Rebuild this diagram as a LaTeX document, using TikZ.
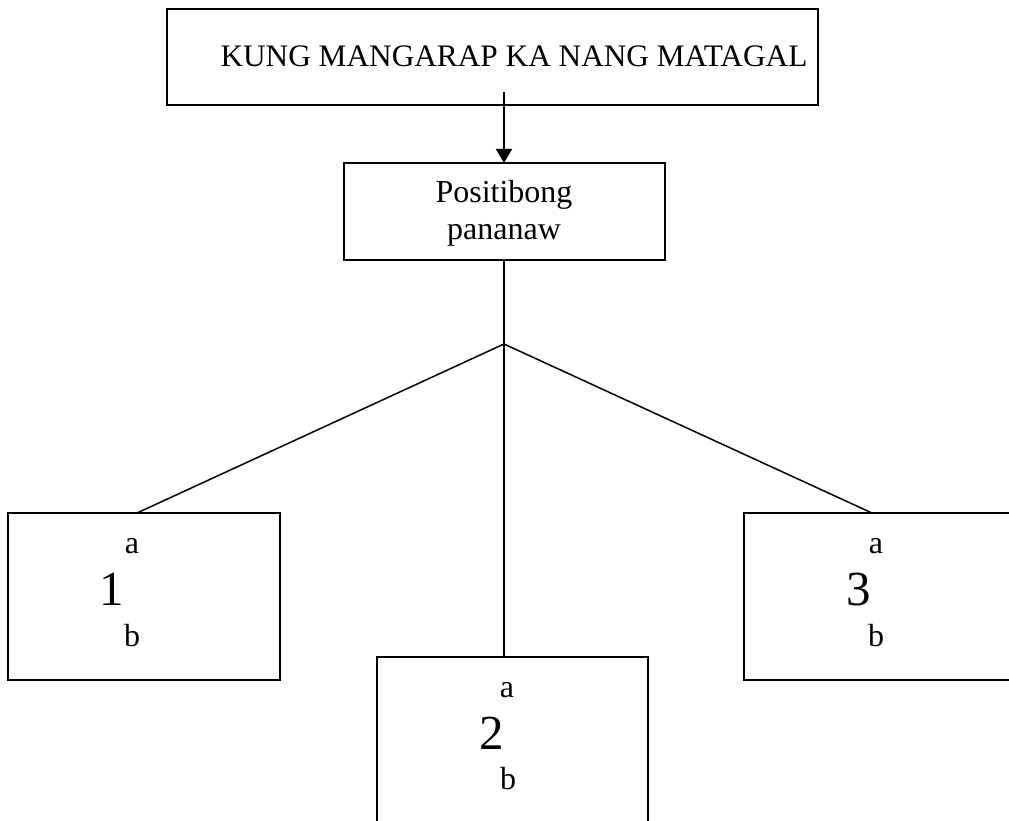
\documentclass[tikz,border=0pt]{standalone}
\usepackage{fontspec}
\setmainfont{Liberation Serif}
\usetikzlibrary{arrows.meta}
\tikzset{
  boxline/.style={draw=black, line width=1.6pt},
  conn/.style={draw=black, line width=1.5pt},
  txt/.style={inner sep=0pt, anchor=base, font=\fontsize{32}{37}\selectfont},
  big/.style={inner sep=0pt, anchor=base, font=\fontsize{49}{55}\selectfont},
}
\begin{document}
\begin{tikzpicture}[x=1pt,y=-1pt]
\useasboundingbox (0,0) rectangle (1009,821);
% boxes
\draw[boxline] (167,9) rectangle (818,105);
\draw[boxline] (344,163) rectangle (665,260);
\draw[boxline] (8,513) rectangle (280,680);
\draw[boxline] (377,657) rectangle (648,840);
\draw[boxline] (1030,513) -- (744,513) -- (744,680) -- (1030,680);
% named anchor points
\coordinate (topstart) at (504,92);
\coordinate (midtop) at (504,163);
\coordinate (midbot) at (504,260);
\coordinate (junc) at (504,344);
\coordinate (b1top) at (137,513);
\coordinate (b2top) at (504,657);
\coordinate (b3top) at (872,513);
% texts
\node[txt, font=\fontsize{31.3}{36}\selectfont] (title) at (514,67) {KUNG MANGARAP KA NANG MATAGAL};
\node[txt] (pos1) at (504,203) {Positibong};
\node[txt] (pos2) at (504,240) {pananaw};
\node[txt] (a1) at (132,553) {a};
\node[big] (n1) at (112,605) {1};
\node[txt] (b1) at (132,646) {b};
\node[txt] (a2) at (507,697) {a};
\node[big] (n2) at (492,749) {2};
\node[txt] (b2) at (508,789) {b};
\node[txt] (a3) at (876,553) {a};
\node[big] (n3) at (859,605) {3};
\node[txt] (b3) at (876,646) {b};
% connectors
\draw[conn, -{Triangle[width=16pt,length=14pt]}] (topstart) -- (midtop);
\draw[conn] (midbot) -- (junc);
\draw[conn] (junc) -- (b1top);
\draw[conn] (junc) -- (b2top);
\draw[conn] (junc) -- (b3top);
\end{tikzpicture}
\end{document}
